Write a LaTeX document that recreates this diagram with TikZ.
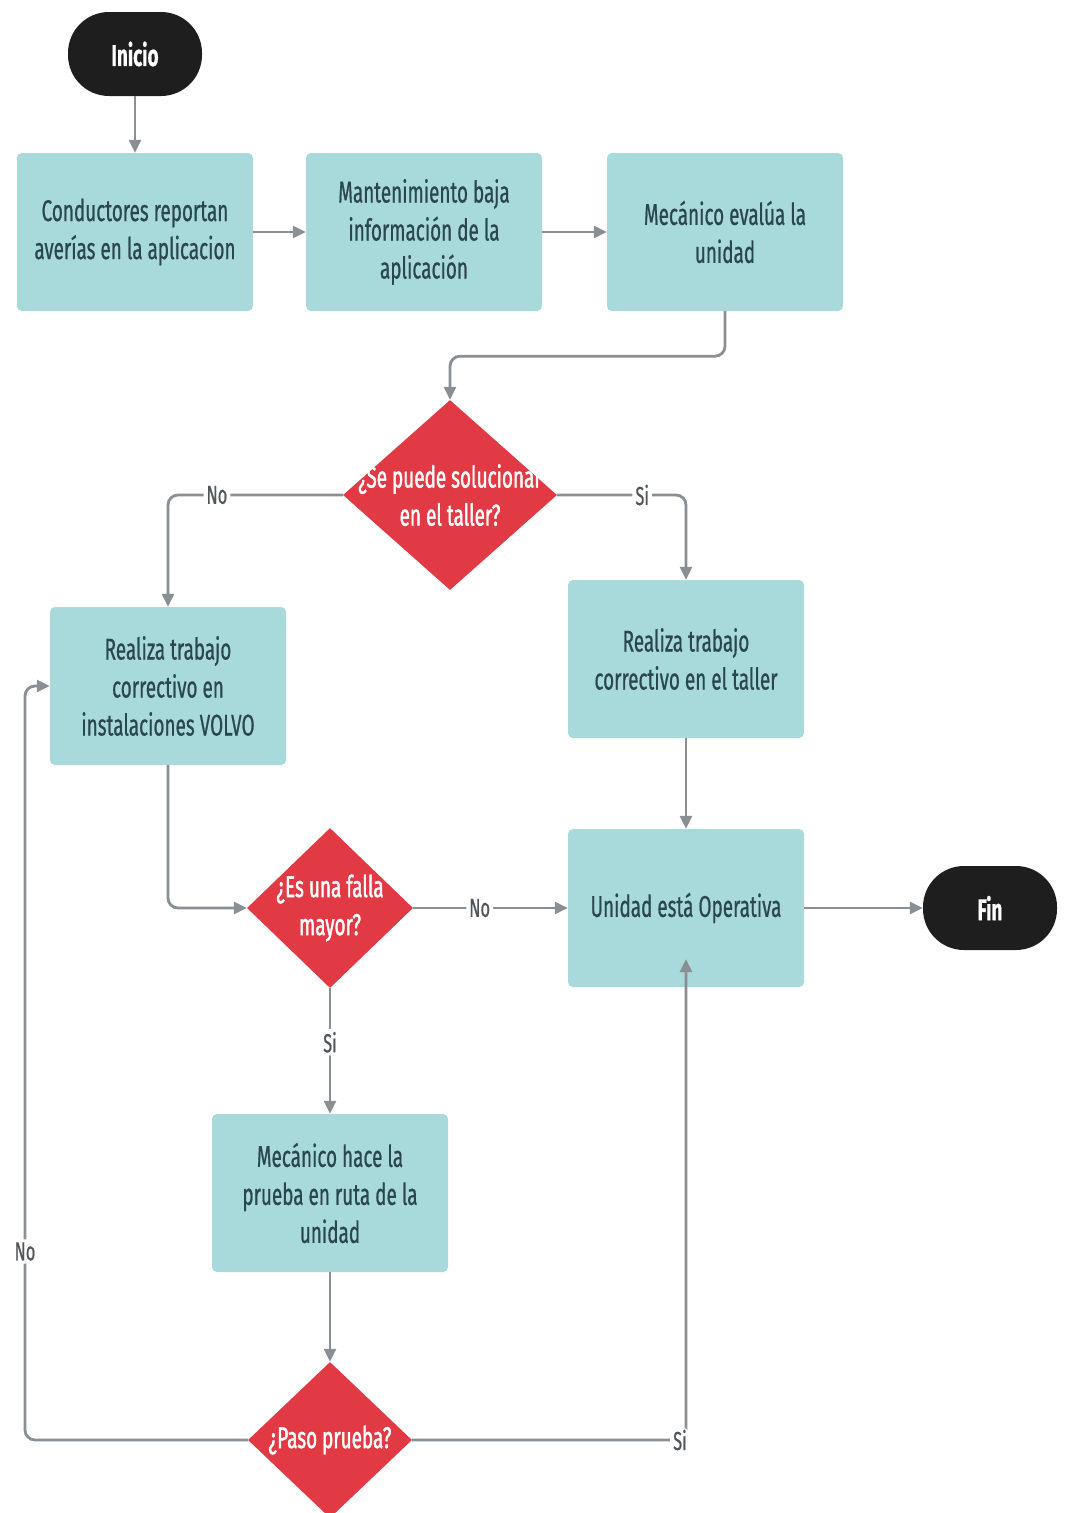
\documentclass[tikz,border=0pt]{standalone}
\usepackage{fontspec}
\setmainfont{Fira Sans}[FakeStretch=0.63, FakeBold=0.6]
\newfontfamily\medfont{Fira Sans}[FakeStretch=0.63, FakeBold=1.4]
\usetikzlibrary{arrows.meta,shapes.geometric,calc}
\definecolor{boxfill}{HTML}{A8D9DB}
\definecolor{boxtext}{HTML}{29474D}
\definecolor{decfill}{HTML}{E23A44}
\definecolor{pillfill}{HTML}{1E1E1E}
\definecolor{linegray}{HTML}{8A8F94}
\definecolor{labgray}{HTML}{50555A}

\begin{document}
\begin{tikzpicture}[x=1pt,y=-1pt,
  procbox/.style={rectangle, rounded corners=5pt, fill=boxfill,
    minimum width=236pt, minimum height=158pt, text=boxtext, align=center,
    font=\fontsize{30}{38}\selectfont, inner sep=0pt},
  pill/.style={rectangle, rounded corners=41pt, fill=pillfill,
    minimum width=134pt, minimum height=84pt, text=white,
    font=\fontsize{30}{36}\selectfont\bfseries},
  decision/.style={diamond, fill=decfill, inner sep=0pt},
  dectext/.style={text=white, align=center, inner sep=0pt,
    font=\fontsize{30}{38}\medfont},
  arr/.style={draw=linegray, line width=2.8pt,
    -{Triangle[length=13pt,width=12pt]}, rounded corners=10pt},
  lab/.style={fill=white, text=labgray, inner sep=3pt,
    font=\fontsize{26}{30}\selectfont}
]
\useasboundingbox (0,0) rectangle (1066,1513);
\clip (0,0) rectangle (1066,1513);

% terminals
\node[pill] (inicio) at (135,54) {Inicio};
\node[pill] (fin) at (990,908) {Fin};

% process steps
\node[procbox] (b1) at (135,232) {Conductores reportan\\averías en la aplicacion};
\node[procbox] (b2) at (424,232) {Mantenimiento baja\\información de la\\aplicación};
\node[procbox] (b3) at (725,232) {Mecánico evalúa la\\unidad};
\node[procbox] (b4) at (168,686) {Realiza trabajo\\correctivo en\\instalaciones VOLVO};
\node[procbox] (b5) at (686,659) {Realiza trabajo\\correctivo en el taller};
\node[procbox] (b6) at (686,908) {Unidad está Operativa};
\node[procbox] (b7) at (330,1193) {Mecánico hace la\\prueba en ruta de la\\unidad};

% decisions
\node[decision, minimum width=214pt, minimum height=190pt] (q1) at (450,495) {};
\node[dectext] (q1t) at (q1.center) {¿Se puede solucionar\\en el taller?};
\node[decision, minimum width=166pt, minimum height=160pt] (q2) at (330,908) {};
\node[dectext] (q2t) at (q2.center) {¿Es una falla\\mayor?};
\node[decision, minimum width=164pt, minimum height=156pt] (q3) at (330,1440) {};
\node[dectext] (q3t) at (q3.center) {¿Paso prueba?};

\coordinate (loopx) at (25,0);

% connectors
\draw[arr] (inicio.south) -- (b1.north);
\draw[arr] (b1.east) -- (b2.west);
\draw[arr] (b2.east) -- (b3.west);
\draw[arr] (b3.south) -- ++(0,45) -| (q1.north);
\draw[arr] (q1.west) -| node[lab, pos=0.36] {No} (b4.north);
\draw[arr] (q1.east) -| node[lab, pos=0.33] {Si} (b5.north);
\draw[arr] (b4.south) |- (q2.west);
\draw[arr] (q2.east) -- node[lab, pos=0.43] {No} (b6.west);
\draw[arr] (b5.south) -- (b6.north);
\draw[arr] (b6.east) -- (fin.west);
\draw[arr] (q2.south) -- node[lab, pos=0.43] {Si} (b7.north);
\draw[arr] (b7.south) -- (q3.north);
\draw[arr] (q3.west) -- (q3.west -| loopx)
  -- node[lab, pos=0.25] {No} (b4.west -| loopx) -- (b4.west);
\draw[arr] (q3.east) -| node[lab, pos=0.5, xshift=-6pt] {Si} ($(b6.south)+(0,-28)$);
\end{tikzpicture}
\end{document}
